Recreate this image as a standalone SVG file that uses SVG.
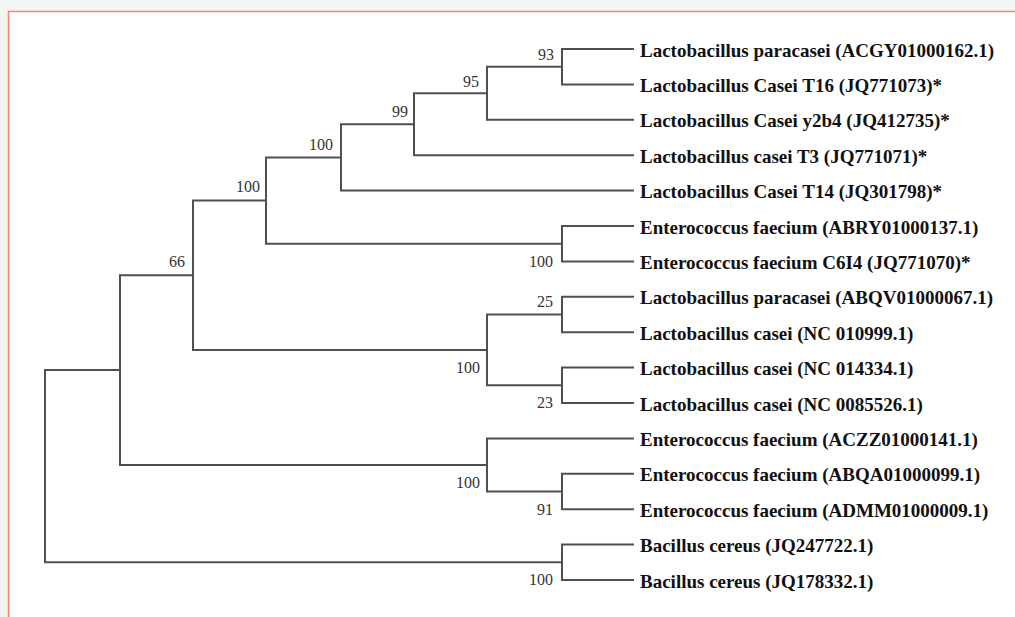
<svg xmlns="http://www.w3.org/2000/svg" width="1015" height="617" viewBox="0 0 1015 617">
<style>
.br{fill:none;stroke:#505050;stroke-width:2;stroke-linecap:square}
.leaf{font-family:"Liberation Serif","Times New Roman",serif;font-weight:bold;font-size:19px;fill:#111}
.bs{font-family:"Liberation Serif","Times New Roman",serif;font-size:16px;fill:#333;text-anchor:end}
</style>
<rect x="0" y="0" width="1015" height="617" fill="#f3f5f5"/>
<rect x="8" y="11" width="1007" height="606" fill="#ffffff"/>
<path d="M8.5,617 V11.5 H1015" fill="none" stroke="#f4866c" stroke-width="1.5"/>
<g id="connectors">
<path class="br" d="M562,49 H633 M562,84.4 H633 M562,49 V84.4"/>
<path class="br" d="M487,66.7 H562 M487,119.8 H633 M487,66.7 V119.8"/>
<path class="br" d="M414,93.25 H487 M414,155.2 H633 M414,93.25 V155.2"/>
<path class="br" d="M341,124.2 H414 M341,190.6 H633 M341,124.2 V190.6"/>
<path class="br" d="M562,226 H633 M562,261.4 H633 M562,226 V261.4"/>
<path class="br" d="M266,157.4 H341 M266,243.7 H562 M266,157.4 V243.7"/>
<path class="br" d="M562,296.8 H633 M562,332.2 H633 M562,296.8 V332.2"/>
<path class="br" d="M562,367.6 H633 M562,403 H633 M562,367.6 V403"/>
<path class="br" d="M487,314.5 H562 M487,385.3 H562 M487,314.5 V385.3"/>
<path class="br" d="M193,200.6 H266 M193,349.9 H487 M193,200.6 V349.9"/>
<path class="br" d="M562,473.8 H633 M562,509.2 H633 M562,473.8 V509.2"/>
<path class="br" d="M487,438.4 H633 M487,491.5 H562 M487,438.4 V491.5"/>
<path class="br" d="M120,275.2 H193 M120,465 H487 M120,275.2 V465"/>
<path class="br" d="M562,544.6 H633 M562,580 H633 M562,544.6 V580"/>
<path class="br" d="M45,370.1 H120 M45,562.3 H562 M45,370.1 V562.3"/>
</g>
<g id="leaf1"><text class="leaf" x="640" y="56.5">Lactobacillus paracasei (ACGY01000162.1)</text></g>
<g id="leaf2"><text class="leaf" x="640" y="91.9">Lactobacillus Casei T16 (JQ771073)*</text></g>
<g id="leaf3"><text class="leaf" x="640" y="127.3">Lactobacillus Casei y2b4 (JQ412735)*</text></g>
<g id="leaf4"><text class="leaf" x="640" y="162.7">Lactobacillus casei T3 (JQ771071)*</text></g>
<g id="leaf5"><text class="leaf" x="640" y="198.1">Lactobacillus Casei T14 (JQ301798)*</text></g>
<g id="leaf6"><text class="leaf" x="640" y="233.5">Enterococcus faecium (ABRY01000137.1)</text></g>
<g id="leaf7"><text class="leaf" x="640" y="268.9">Enterococcus faecium C6I4 (JQ771070)*</text></g>
<g id="leaf8"><text class="leaf" x="640" y="304.3">Lactobacillus paracasei (ABQV01000067.1)</text></g>
<g id="leaf9"><text class="leaf" x="640" y="339.7">Lactobacillus casei (NC 010999.1)</text></g>
<g id="leaf10"><text class="leaf" x="640" y="375.1">Lactobacillus casei (NC 014334.1)</text></g>
<g id="leaf11"><text class="leaf" x="640" y="410.5">Lactobacillus casei (NC 0085526.1)</text></g>
<g id="leaf12"><text class="leaf" x="640" y="445.9">Enterococcus faecium (ACZZ01000141.1)</text></g>
<g id="leaf13"><text class="leaf" x="640" y="481.3">Enterococcus faecium (ABQA01000099.1)</text></g>
<g id="leaf14"><text class="leaf" x="640" y="516.7">Enterococcus faecium (ADMM01000009.1)</text></g>
<g id="leaf15"><text class="leaf" x="640" y="552.1">Bacillus cereus (JQ247722.1)</text></g>
<g id="leaf16"><text class="leaf" x="640" y="587.5">Bacillus cereus (JQ178332.1)</text></g>
<g id="node93"><text class="bs" x="554" y="60">93</text></g>
<g id="node95"><text class="bs" x="479" y="87">95</text></g>
<g id="node99"><text class="bs" x="408" y="117">99</text></g>
<g id="node100a"><text class="bs" x="333" y="150">100</text></g>
<g id="node100b"><text class="bs" x="260" y="192">100</text></g>
<g id="node66"><text class="bs" x="185" y="267">66</text></g>
<g id="node100c"><text class="bs" x="553" y="267">100</text></g>
<g id="node25"><text class="bs" x="553" y="307">25</text></g>
<g id="node100d"><text class="bs" x="480" y="373">100</text></g>
<g id="node23"><text class="bs" x="553" y="408">23</text></g>
<g id="node100e"><text class="bs" x="480" y="488">100</text></g>
<g id="node91"><text class="bs" x="553" y="515">91</text></g>
<g id="node100f"><text class="bs" x="553" y="585">100</text></g>
<g id="root"/>
</svg>
